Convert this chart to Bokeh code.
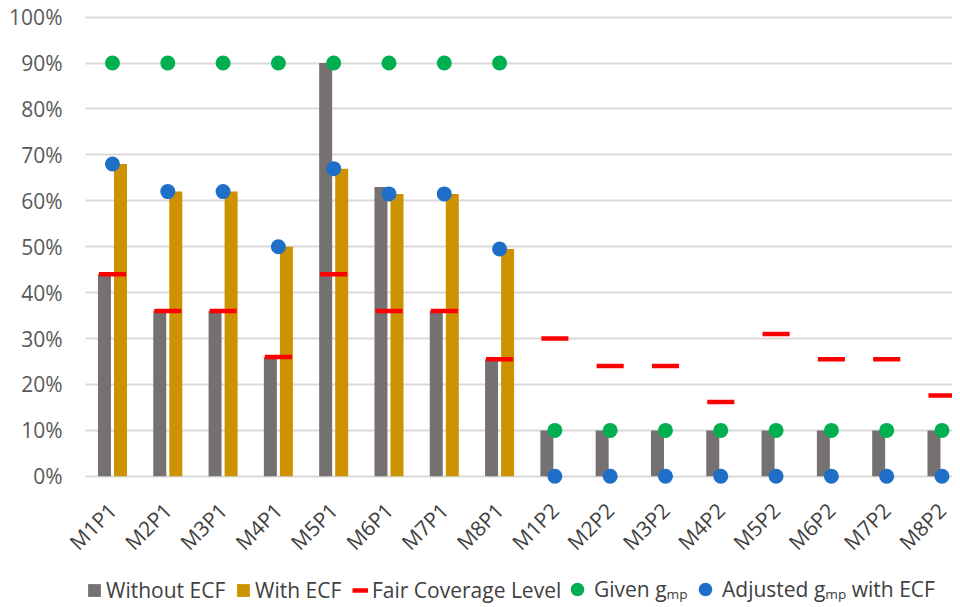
import math
from bokeh.plotting import figure
from bokeh.layouts import column
from bokeh.models import (ColumnDataSource, Range1d, FixedTicker, NumeralTickFormatter,
                          Legend, LegendItem)
from bokeh.embed import file_html
from bokeh.resources import INLINE

categories = ["M1P1", "M2P1", "M3P1", "M4P1", "M5P1", "M6P1", "M7P1", "M8P1",
              "M1P2", "M2P2", "M3P2", "M4P2", "M5P2", "M6P2", "M7P2", "M8P2"]
without_ecf = [0.44, 0.36, 0.36, 0.26, 0.90, 0.63, 0.36, 0.255,
               0.10, 0.10, 0.10, 0.10, 0.10, 0.10, 0.10, 0.10]
with_ecf = [0.68, 0.62, 0.62, 0.50, 0.67, 0.615, 0.615, 0.495,
            0.0, 0.0, 0.0, 0.0, 0.0, 0.0, 0.0, 0.0]
fair_coverage = [0.44, 0.36, 0.36, 0.26, 0.44, 0.36, 0.36, 0.255,
                 0.30, 0.24, 0.24, 0.162, 0.31, 0.255, 0.255, 0.176]
given_gmp = [0.90, 0.90, 0.90, 0.90, 0.90, 0.90, 0.90, 0.90,
             0.10, 0.10, 0.10, 0.10, 0.10, 0.10, 0.10, 0.10]
adjusted_gmp = [0.68, 0.62, 0.62, 0.50, 0.67, 0.615, 0.615, 0.495,
                0.0, 0.0, 0.0, 0.0, 0.0, 0.0, 0.0, 0.0]
y_ticks = [0.0, 0.1, 0.2, 0.3, 0.4, 0.5, 0.6, 0.7, 0.8, 0.9, 1.0]
legend_labels = ["Without ECF", "With ECF", "Fair Coverage Level",
                 "Given gₘₚ", "Adjusted gₘₚ with ECF"]

GRAY, ORANGE, RED, GREEN, BLUE = "#767171", "#CC9200", "#FF0000", "#00B050", "#1F6FC8"
FONT = "Open Sans"

xs = list(range(len(categories)))
src = ColumnDataSource(dict(
    x=xs,
    x_gray=[v - 0.145 for v in xs],
    x_orange=[v + 0.145 for v in xs],
    x0=[v - 0.245 for v in xs],
    x1=[v + 0.245 for v in xs],
    without=without_ecf, with_=with_ecf, fair=fair_coverage,
    given=given_gmp, adjusted=adjusted_gmp,
))


def add_series(fig):
    rg = fig.vbar(x="x_gray", top="without", width=0.235, source=src,
                  fill_color=GRAY, line_color=None)
    ro = fig.vbar(x="x_orange", top="with_", width=0.235, source=src,
                  fill_color=ORANGE, line_color=None)
    rr = fig.segment(x0="x0", x1="x1", y0="fair", y1="fair", source=src,
                     line_color=RED, line_width=4.5, line_cap="butt")
    rgr = fig.scatter(x="x", y="given", size=15, source=src,
                      fill_color=GREEN, line_color=None)
    rb = fig.scatter(x="x", y="adjusted", size=15, source=src,
                     fill_color=BLUE, line_color=None)
    return [rg, ro, rr, rgr, rb]


p = figure(width=952, height=569, output_backend="svg", toolbar_location=None,
           x_range=Range1d(-0.488, 15.19), y_range=Range1d(-0.02, 1.01),
           min_border_left=85, min_border_right=0, min_border_top=12,
           min_border_bottom=84)
p.outline_line_color = None
add_series(p)

p.xgrid.grid_line_color = None
p.ygrid.grid_line_color = "#D9D9D9"
p.ygrid.grid_line_width = 2
p.yaxis.ticker = FixedTicker(ticks=y_ticks)
p.yaxis.formatter = NumeralTickFormatter(format="0%")
p.yaxis.axis_line_color = None
p.yaxis.major_tick_line_color = None
p.yaxis.minor_tick_line_color = None
p.yaxis.major_tick_out = 0
p.yaxis.major_label_standoff = 23
p.yaxis.major_label_text_font = FONT
p.yaxis.major_label_text_font_size = "21px"
p.yaxis.major_label_text_color = "#595959"

p.xaxis.ticker = FixedTicker(ticks=xs)
p.xaxis.major_label_overrides = {i: c for i, c in zip(xs, categories)}
p.xaxis.major_label_orientation = math.pi / 4
p.xaxis.axis_line_color = None
p.xaxis.major_tick_line_color = None
p.xaxis.minor_tick_line_color = None
p.xaxis.major_tick_out = 0
p.xaxis.major_label_standoff = 21
p.xaxis.major_label_text_font = FONT
p.xaxis.major_label_text_font_size = "21px"
p.xaxis.major_label_text_color = "#404040"

# legend strip (series drawn out of view; only legend swatches are visible)
lg = figure(width=952, height=38, output_backend="svg", toolbar_location=None,
            x_range=Range1d(100, 101), y_range=Range1d(100, 101),
            x_axis_location=None, y_axis_location=None,
            min_border_left=0, min_border_right=0, min_border_top=0, min_border_bottom=0)
lg.grid.grid_line_color = None
lg.outline_line_color = None
lg_renderers = add_series(lg)

specs = [(1, 3, 16), (150, 3, 16), (267, 3, 16), (475, 1, 34), (603, 1, 34)]
for rend, (lx, ly, gsize), lab in zip(lg_renderers, specs, legend_labels):
    leg = Legend(items=[LegendItem(label=lab, renderers=[rend])],
                 location=(lx, ly), orientation="horizontal")
    leg.border_line_color = None
    leg.background_fill_alpha = 0
    leg.label_text_font = FONT
    leg.label_text_font_size = "21px"
    leg.label_text_color = "#404040"
    leg.glyph_width = gsize
    leg.glyph_height = gsize
    leg.label_standoff = 4 if gsize < 20 else 0
    leg.padding = 0
    leg.margin = 0
    lg.add_layout(leg, "center")

layout = column(p, lg, spacing=0)
open("out.html", "w").write(file_html(layout, INLINE))
